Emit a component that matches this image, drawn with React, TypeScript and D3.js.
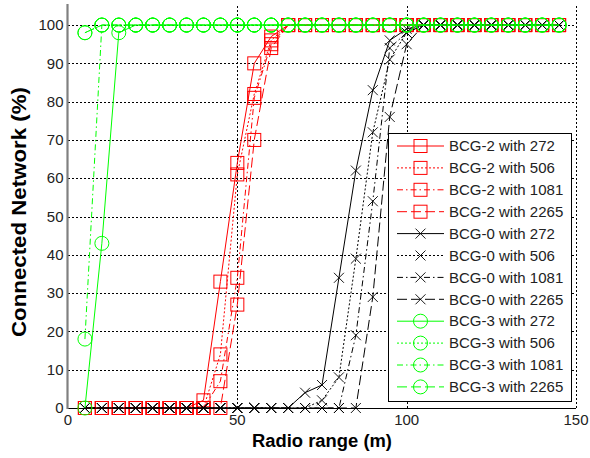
import React from "react";
import * as d3 from "d3";

const xs = [5,10,15,20,25,30,35,40,45,50,55,60,65,70,75,80,85,90,95,100,105,110,115,120,125,130,135,140,145];

// BCG-2 (red, squares)
const bcg2_272  = [0,0,0,0,0,0,0,2,33,64,90,97,100,100,100,100,100,100,100,100,100,100,100,100,100,100,100,100,100];
const bcg2_506  = [0,0,0,0,0,0,0,0,14,61,82,96,100,100,100,100,100,100,100,100,100,100,100,100,100,100,100,100,100];
const bcg2_1081 = [0,0,0,0,0,0,0,0,7,34,81,95,100,100,100,100,100,100,100,100,100,100,100,100,100,100,100,100,100];
const bcg2_2265 = [0,0,0,0,0,0,0,0,0,27,70,94,100,100,100,100,100,100,100,100,100,100,100,100,100,100,100,100,100];
// BCG-0 (black, crosses)
const bcg0_272  = [0,0,0,0,0,0,0,0,0,0,0,0,0,4,6,34,62,83,96,99,100,100,100,100,100,100,100,100,100];
const bcg0_506  = [0,0,0,0,0,0,0,0,0,0,0,0,0,0,2,8,39,72,91,98,100,100,100,100,100,100,100,100,100];
const bcg0_1081 = [0,0,0,0,0,0,0,0,0,0,0,0,0,0,0,0,19,54,94,98,100,100,100,100,100,100,100,100,100];
const bcg0_2265 = [0,0,0,0,0,0,0,0,0,0,0,0,0,0,0,0,0,29,76,95,100,100,100,100,100,100,100,100,100];
// BCG-3 (green, circles)
const bcg3_272  = [0,43,98,100,100,100,100,100,100,100,100,100,100,100,100,100,100,100,100,100,100,100,100,100,100,100,100,100,100];
const bcg3_506  = [98,100,100,100,100,100,100,100,100,100,100,100,100,100,100,100,100,100,100,100,100,100,100,100,100,100,100,100,100];
const bcg3_1081 = [18,100,100,100,100,100,100,100,100,100,100,100,100,100,100,100,100,100,100,100,100,100,100,100,100,100,100,100,100];
const bcg3_2265 = [98,100,100,100,100,100,100,100,100,100,100,100,100,100,100,100,100,100,100,100,100,100,100,100,100,100,100,100,100];

const seriesNames = [
  "BCG-2 with 272","BCG-2 with 506","BCG-2 with 1081","BCG-2 with 2265",
  "BCG-0 with 272","BCG-0 with 506","BCG-0 with 1081","BCG-0 with 2265",
  "BCG-3 with 272","BCG-3 with 506","BCG-3 with 1081","BCG-3 with 2265",
];
const seriesValues = [bcg2_272,bcg2_506,bcg2_1081,bcg2_2265,bcg0_272,bcg0_506,bcg0_1081,bcg0_2265,bcg3_272,bcg3_506,bcg3_1081,bcg3_2265];

const xTicks = [0,50,100,150];
const yTicks = [0,10,20,30,40,50,60,70,80,90,100];

const dashes = ["", "2,2", "6,3,1.5,3", "10,4"];
const colors = ["#ff0000", "#000000", "#00ff00"];
const markers = ["square", "x", "circle"];

const FONT = "'Liberation Sans', Arial, Helvetica, sans-serif";

function Marker({ kind, cx, cy, color }: { kind: string; cx: number; cy: number; color: string }) {
  if (kind === "square") {
    const h = 6.5;
    return <rect x={cx - h} y={cy - h} width={2 * h} height={2 * h} fill="none" stroke={color} strokeWidth={1} />;
  }
  if (kind === "x") {
    const h = 5;
    return (
      <path d={`M${cx - h},${cy - h}L${cx + h},${cy + h}M${cx - h},${cy + h}L${cx + h},${cy - h}`} stroke={color} strokeWidth={0.9} fill="none" />
    );
  }
  return <circle cx={cx} cy={cy} r={7} fill="none" stroke={color} strokeWidth={1} />;
}

export default function App() {
  const W = 590, H = 458;
  const x = d3.scaleLinear().domain([0, 150]).range([68, 576]);
  const y = d3.scaleLinear().domain([0, 105.5]).range([408, 4]);
  const line = d3.line<[number, number]>().x(d => x(d[0])).y(d => y(d[1]));

  const legX = 388, legY = 133, legW = 183, legH = 268;
  const rowY = (i: number) => 146 + i * 21.9;

  return (
    <svg width={W} height={H} style={{ position: "absolute", left: 0, top: 0, background: "#fff" }} fontFamily={FONT}>
      <rect x={0} y={0} width={W} height={H} fill="#fff" />
      {/* grid */}
      {yTicks.filter(t => t > 0).map(t => (
        <line key={"gy" + t} x1={x(0)} x2={x(150)} y1={Math.round(y(t)) + 0.5} y2={Math.round(y(t)) + 0.5} stroke="#000" strokeWidth={1} strokeDasharray="2,2" />
      ))}
      {xTicks.filter(t => t > 0).map(t => (
        <line key={"gx" + t} x1={Math.round(x(t)) + 0.5} x2={Math.round(x(t)) + 0.5} y1={y(0)} y2={y(105.5)} stroke="#000" strokeWidth={1} strokeDasharray="2,2" />
      ))}
      {/* axes */}
      <line x1={x(0)} x2={x(150)} y1={408.5} y2={408.5} stroke="#000" strokeWidth={1} />
      <line x1={67.5} x2={67.5} y1={4} y2={409} stroke="#808080" strokeWidth={2.2} />
      {/* series */}
      {seriesValues.map((vals, si) => {
        const g = Math.floor(si / 4);
        const st = si % 4;
        const pts: [number, number][] = xs.map((xv, i) => [xv, vals[i]]);
        return (
          <g key={"s" + si}>
            <path d={line(pts) || ""} fill="none" stroke={colors[g]} strokeWidth={1} strokeDasharray={dashes[st]} />
            {pts.map((p, i) => (
              <Marker key={i} kind={markers[g]} cx={x(p[0])} cy={y(p[1])} color={colors[g]} />
            ))}
          </g>
        );
      })}
      {/* tick labels */}
      {yTicks.map(t => (
        <text key={"ty" + t} x={63.5} y={y(t)} dy="0.35em" textAnchor="end" fontSize={15} fill="#222">{t}</text>
      ))}
      {xTicks.map(t => (
        <text key={"tx" + t} x={x(t)} y={420} dy="0.35em" textAnchor="middle" fontSize={15} fill="#222">{t}</text>
      ))}
      {/* axis labels */}
      <text x={322} y={447} textAnchor="middle" fontSize={18} fontWeight="bold" fill="#000" textLength={140} lengthAdjust="spacingAndGlyphs">Radio range (m)</text>
      <text transform="translate(26,212) rotate(-90)" textAnchor="middle" fontSize={20} fontWeight="bold" fill="#000" textLength={250} lengthAdjust="spacingAndGlyphs">Connected Network (%)</text>
      {/* legend */}
      <rect x={legX + 0.5} y={legY + 0.5} width={legW} height={legH} fill="#fff" stroke="#000" strokeWidth={1} />
      {seriesNames.map((name, i) => {
        const g = Math.floor(i / 4);
        const st = i % 4;
        const cy = rowY(i);
        return (
          <g key={"l" + i}>
            <line x1={397} x2={444} y1={cy} y2={cy} stroke={colors[g]} strokeWidth={1} strokeDasharray={dashes[st]} />
            <Marker kind={markers[g]} cx={420.5} cy={cy} color={colors[g]} />
            <text x={449} y={cy} dy="0.35em" fontSize={15} fill="#222">{name}</text>
          </g>
        );
      })}
    </svg>
  );
}
